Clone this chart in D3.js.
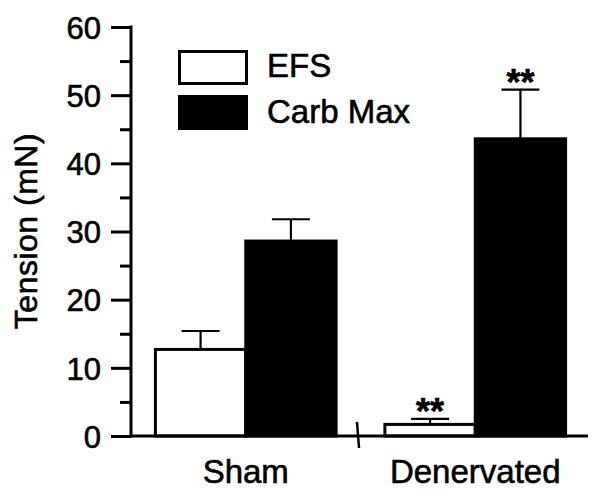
<!DOCTYPE html>
<html>
<head>
<meta charset="utf-8">
<script src="https://cdn.jsdelivr.net/npm/d3@7"></script>
<style>
  body { margin: 0; background: #fff; }
  svg text { font-family: "Liberation Sans", Arial, sans-serif; fill: #000; stroke: #000; stroke-width: 0.6px; }
</style>
</head>
<body>
<div id="chart"></div>
<script>
// data
var groups = ['Sham', 'Denervated']
var series = ['EFS', 'Carb Max']
var efsMean = [12.7, 1.7]
var efsErr = [2.7, 0.8]
var carbMean = [28.6, 43.6]
var carbErr = [3.2, 7.2]
var efsSig = ['', '**']
var carbSig = ['', '**']
var majorTicks = [0, 10, 20, 30, 40, 50, 60]
var minorTicks = [5, 15, 25, 35, 45, 55]

var width = 602, height = 495
var svg = d3.select('#chart').append('svg')
    .attr('width', width)
    .attr('height', height)

// scales
var yScale = d3.scaleLinear().domain([0, 60]).range([436, 27])
var xGroup = d3.scaleBand().domain(groups).range([131, 590]).padding(0)
var xInner = d3.scaleBand().domain(series).range([0, xGroup.bandwidth()])
    .paddingInner(0).paddingOuter(0.27)

// flatten into bars
var bars = []
groups.forEach(function (g, i) {
  bars.push({ group: g, key: 'EFS', mean: efsMean[i], err: efsErr[i], sig: efsSig[i] })
  bars.push({ group: g, key: 'Carb Max', mean: carbMean[i], err: carbErr[i], sig: carbSig[i] })
})

function barX(d) { return xGroup(d.group) + xInner(d.key) }
function barMid(d) { return barX(d) + xInner.bandwidth() / 2 }

// bars
svg.append('g').selectAll('rect')
  .data(bars)
  .enter().append('rect')
  .attr('x', barX)
  .attr('y', function (d) { return yScale(d.mean) })
  .attr('width', xInner.bandwidth())
  .attr('height', function (d) { return yScale(0) - yScale(d.mean) })
  .attr('fill', function (d) { return d.key == 'EFS' ? '#fff' : '#000' })
  .attr('stroke', '#000')
  .attr('stroke-width', 3)

// error bars (upper only)
var errG = svg.append('g').attr('stroke', '#000').attr('stroke-width', 2.2)
errG.selectAll('.stem')
  .data(bars)
  .enter().append('line')
  .attr('x1', barMid).attr('x2', barMid)
  .attr('y1', function (d) { return yScale(d.mean) })
  .attr('y2', function (d) { return yScale(d.mean + d.err) })
errG.selectAll('.cap')
  .data(bars)
  .enter().append('line')
  .attr('x1', function (d) { return barMid(d) - 19 })
  .attr('x2', function (d) { return barMid(d) + 19 })
  .attr('y1', function (d) { return yScale(d.mean + d.err) })
  .attr('y2', function (d) { return yScale(d.mean + d.err) })

// significance stars
svg.append('g').selectAll('text')
  .data(bars.filter(function (d) { return d.sig }))
  .enter().append('text')
  .attr('x', barMid)
  .attr('y', function (d) { return yScale(d.mean + d.err) + 5 })
  .attr('text-anchor', 'middle')
  .style('font-size', '36px')
  .style('font-weight', 'bold')
  .text(function (d) { return d.sig })

// y axis
var yAxis = d3.axisLeft(yScale).tickValues(majorTicks).tickSize(20).tickPadding(10)
var yg = svg.append('g').attr('transform', 'translate(131,0)').call(yAxis)
yg.select('.domain').remove()
yg.selectAll('.tick line').attr('stroke-width', 3)
yg.selectAll('.tick text')
  .style('font-size', '31px')
  .style('font-family', '"Liberation Sans", Arial, sans-serif')
  .attr('dy', '0.36em')

var yMinor = d3.axisLeft(yScale).tickValues(minorTicks).tickSize(11).tickFormat('')
var ym = svg.append('g').attr('transform', 'translate(131,0)').call(yMinor)
ym.select('.domain').remove()
ym.selectAll('.tick line').attr('stroke-width', 3)

svg.append('line')
  .attr('x1', 131).attr('x2', 131)
  .attr('y1', yScale(60) - 1.5).attr('y2', yScale(0) + 1.5)
  .attr('stroke', '#000').attr('stroke-width', 3)

// x baseline with break mark
svg.append('line')
  .attr('x1', 131).attr('x2', 588)
  .attr('y1', yScale(0)).attr('y2', yScale(0))
  .attr('stroke', '#000').attr('stroke-width', 3)
svg.append('line')
  .attr('x1', 357).attr('x2', 359)
  .attr('y1', yScale(0) - 14).attr('y2', yScale(0) + 12)
  .attr('stroke', '#000').attr('stroke-width', 2.5)

// category labels
svg.append('g').selectAll('text')
  .data(groups)
  .enter().append('text')
  .attr('x', function (d) { return xGroup(d) + xGroup.bandwidth() / 2 })
  .attr('y', 483)
  .attr('text-anchor', 'middle')
  .style('font-size', '33px')
  .text(function (d) { return d })

// y label
svg.append('text')
  .attr('transform', 'translate(37,231) rotate(-90)')
  .attr('text-anchor', 'middle')
  .style('font-size', '32px')
  .style('letter-spacing', '0.5px')
  .text('Tension (mN)')

// legend
var legend = svg.append('g')
legend.selectAll('rect')
  .data(series)
  .enter().append('rect')
  .attr('x', 179.5)
  .attr('y', function (d, i) { return 51.5 + i * 45 })
  .attr('width', 67)
  .attr('height', 32)
  .attr('fill', function (d, i) { return i == 0 ? '#fff' : '#000' })
  .attr('stroke', '#000')
  .attr('stroke-width', 3)
legend.selectAll('text')
  .data(series)
  .enter().append('text')
  .attr('x', 267)
  .attr('y', function (d, i) { return 77 + i * 46 })
  .style('font-size', '33px')
  .text(function (d) { return d })
</script>
</body>
</html>
